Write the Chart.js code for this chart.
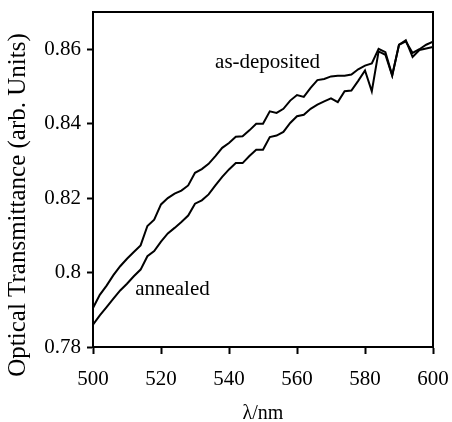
<!DOCTYPE html>
<html>
<head>
<meta charset="utf-8">
<script src="https://cdn.jsdelivr.net/npm/chart.js@4/dist/chart.umd.min.js"></script>
<style>
html,body{margin:0;padding:0;background:#fff;}
#wrap{width:452px;height:422px;position:relative;}
</style>
</head>
<body>
<div id="wrap"><canvas id="c" width="452" height="422"></canvas></div>
<script>
const wavelengths = [500,502,504,506,508,510,512,514,516,518,520,522,524,526,528,530,532,534,536,538,540,542,544,546,548,550,552,554,556,558,560,562,564,566,568,570,572,574,576,578,580,582,584,586,588,590,592,594,596,598,600];
const asDeposited = [0.7905,0.7940,0.7965,0.7993,0.8017,0.8037,0.8055,0.8073,0.8125,0.8142,0.8183,0.8200,0.8212,0.8220,0.8234,0.8268,0.8278,0.8292,0.8313,0.8335,0.8348,0.8365,0.8366,0.8382,0.8400,0.8400,0.8433,0.8429,0.8440,0.8462,0.8477,0.8472,0.8496,0.8517,0.8520,0.8527,0.8529,0.8529,0.8532,0.8546,0.8556,0.8562,0.8601,0.8592,0.8530,0.8612,0.8621,0.8590,0.8600,0.8612,0.8620];
const annealed = [0.7860,0.7885,0.7907,0.7930,0.7952,0.7970,0.7990,0.8008,0.8044,0.8058,0.8083,0.8105,0.8120,0.8136,0.8153,0.8185,0.8194,0.8210,0.8234,0.8257,0.8277,0.8294,0.8294,0.8313,0.8330,0.8330,0.8364,0.8368,0.8378,0.8402,0.8420,0.8424,0.8440,0.8451,0.8460,0.8468,0.8458,0.8487,0.8489,0.8515,0.8543,0.8487,0.8594,0.8585,0.8529,0.8612,0.8624,0.8579,0.8598,0.8602,0.8606];
const xTicks = [500,520,540,560,580,600];
const yTicks = [0.78,0.80,0.82,0.84,0.86];
const yTickLabels = ["0.78","0.8","0.82","0.84","0.86"];
const xTitle = "\u03bb/nm";
const yTitle = "Optical Transmittance (arb. Units)";
const seriesLabels = ["as-deposited","annealed"];

const FONT = "'Liberation Serif','Times New Roman',serif";

const toPts = (ys) => wavelengths.map((x,i)=>({x:x,y:ys[i]}));

const decor = {
  id:'decor',
  afterDraw(chart){
    const ctx = chart.ctx, a = chart.chartArea;
    const xs = chart.scales.x, ys = chart.scales.y;
    ctx.save();
    ctx.strokeStyle = '#000';
    ctx.lineWidth = 2;
    ctx.strokeRect(a.left, a.top, a.right-a.left, a.bottom-a.top);
    ctx.fillStyle = '#000';
    ctx.font = '21px ' + FONT;
    ctx.textBaseline = 'alphabetic';
    ctx.textAlign = 'left';
    ctx.fillText(seriesLabels[0], xs.getPixelForValue(535.9), ys.getPixelForValue(0.8549));
    ctx.fillText(seriesLabels[1], xs.getPixelForValue(512.4), ys.getPixelForValue(0.7941));
    // axis titles
    ctx.textAlign = 'center';
    ctx.textBaseline = 'middle';
    ctx.font = '20px ' + FONT;
    ctx.fillText(xTitle, (a.left+a.right)/2, 414);
    ctx.save();
    ctx.translate(18, 205);
    ctx.rotate(-Math.PI/2);
    ctx.font = '25px ' + FONT;
    ctx.fillText(yTitle, 0, 0);
    ctx.restore();
    ctx.restore();
  }
};

new Chart(document.getElementById('c'), {
  type:'line',
  data:{
    datasets:[
      {label:seriesLabels[0], data:toPts(asDeposited), borderColor:'#000', borderWidth:2, pointRadius:0, tension:0, fill:false},
      {label:seriesLabels[1], data:toPts(annealed), borderColor:'#000', borderWidth:2, pointRadius:0, tension:0, fill:false}
    ]
  },
  options:{
    responsive:false,
    animation:false,
    devicePixelRatio:1,
    layout:{padding:{top:12,right:19,left:0,bottom:0}},
    plugins:{legend:{display:false}, tooltip:{enabled:false}},
    scales:{
      x:{
        type:'linear', min:500, max:600,
        afterBuildTicks:(s)=>{ s.ticks = xTicks.map(v=>({value:v})); },
        afterFit:(s)=>{ s.height = 75; s.paddingLeft = 0; s.paddingRight = 0; },
        ticks:{color:'#000', font:{family:FONT,size:21}, padding:13, maxRotation:0, callback:(v)=>String(v)},
        grid:{drawOnChartArea:false, drawTicks:true, tickLength:7, tickColor:'#000', tickWidth:2},
        border:{display:true, color:'#000', width:2}
      },
      y:{
        type:'linear', min:0.78, max:0.87,
        afterBuildTicks:(s)=>{ s.ticks = yTicks.map(v=>({value:v})); },
        afterFit:(s)=>{ s.width = 93; s.paddingTop = 0; s.paddingBottom = 0; },
        ticks:{color:'#000', font:{family:FONT,size:21}, padding:6, callback:(v)=>{ const i = yTicks.findIndex(t=>Math.abs(t-v)<1e-9); return i>=0 ? yTickLabels[i] : ''; }},
        grid:{drawOnChartArea:false, drawTicks:true, tickLength:6, tickColor:'#000', tickWidth:2},
        border:{display:true, color:'#000', width:2}
      }
    }
  },
  plugins:[decor]
});
</script>
</body>
</html>
